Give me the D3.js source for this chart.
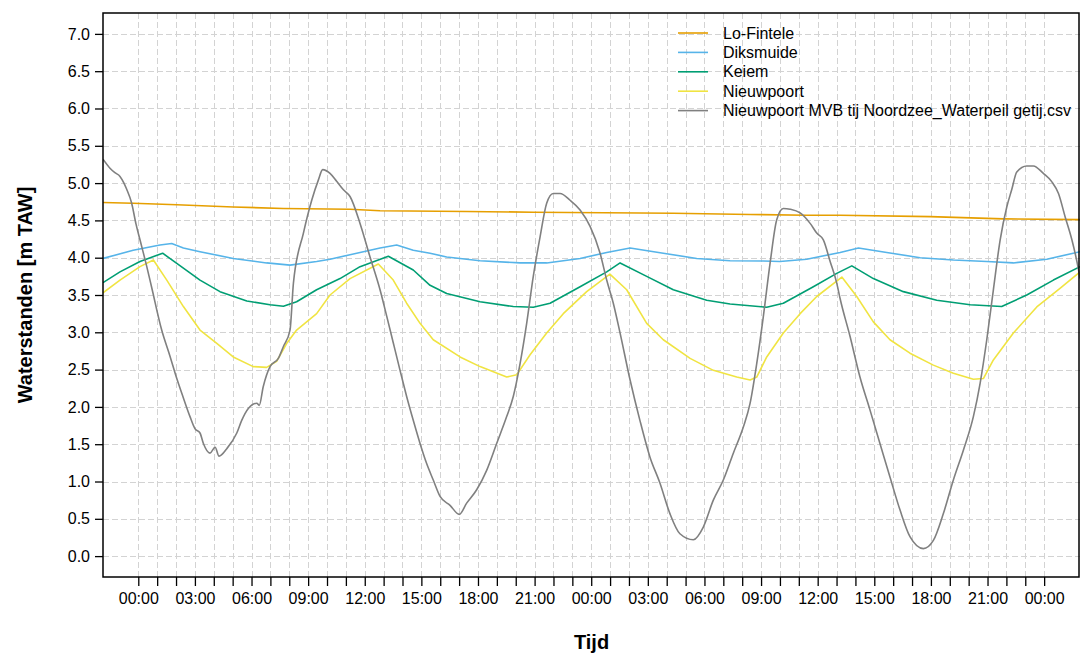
<!DOCTYPE html>
<html>
<head>
<meta charset="utf-8">
<script src="https://cdn.jsdelivr.net/npm/d3@7"></script>
<style>
	body { margin: 0; background: #fff; }
	text { font-family: "Liberation Sans", Arial, sans-serif; fill: #000; }
</style>
</head>
<body>
<div id="chart"></div>
<script>
// [uur t.o.v. eerste middernacht, waterstand m TAW]
const loFintele = [[-1.87,4.74],[-0.28,4.73],[2.04,4.71],[5.03,4.68],[7.68,4.66],[11.22,4.65],[12.81,4.63],[17.40,4.62],[20.93,4.61],[26.58,4.60],[28.35,4.595],[32.42,4.58],[35.42,4.57],[37.19,4.57],[41.96,4.55],[45.84,4.52],[49.9,4.51]];

const diksmuide = [[-1.87,3.99],[-0.27,4.10],[1.15,4.17],[1.77,4.19],[2.39,4.13],[3.27,4.08],[5.03,3.99],[6.80,3.93],[8.04,3.90],[9.45,3.95],[10.16,3.98],[11.22,4.04],[12.81,4.13],[13.69,4.17],[14.57,4.10],[15.46,4.06],[16.34,4.01],[18.11,3.96],[20.23,3.93],[21.64,3.93],[23.41,3.99],[24.82,4.07],[26.06,4.13],[27.82,4.06],[29.59,3.99],[31.36,3.96],[33.12,3.955],[34.0,3.95],[35.42,3.98],[37.19,4.07],[38.16,4.13],[39.66,4.07],[41.43,4.00],[43.19,3.97],[44.96,3.95],[46.37,3.93],[48.14,3.98],[49.9,4.08]];

const keiem = [[-1.87,3.665],[-0.97,3.81],[0.09,3.95],[1.29,4.06],[2.04,3.925],[3.27,3.70],[4.33,3.545],[5.75,3.42],[6.98,3.37],[7.69,3.35],[8.39,3.41],[9.45,3.57],[10.69,3.72],[11.75,3.88],[13.25,4.02],[14.57,3.835],[15.46,3.63],[16.34,3.52],[18.11,3.41],[19.87,3.345],[20.93,3.335],[21.82,3.39],[23.41,3.61],[24.82,3.81],[25.53,3.93],[26.94,3.75],[28.35,3.57],[30.12,3.43],[31.36,3.38],[33.30,3.335],[34.18,3.39],[35.77,3.61],[37.01,3.79],[37.81,3.89],[38.95,3.72],[40.54,3.545],[42.31,3.43],[44.08,3.37],[45.75,3.345],[47.08,3.50],[48.49,3.70],[49.9,3.88]];

const nieuwpoort = [[-1.87,3.53],[-0.97,3.70],[0.09,3.88],[0.80,3.97],[1.51,3.70],[2.39,3.345],[3.27,3.03],[4.16,2.85],[5.03,2.67],[6.09,2.54],[6.80,2.53],[7.33,2.61],[7.86,2.85],[8.39,3.03],[9.45,3.25],[10.16,3.50],[11.22,3.72],[12.72,3.915],[13.51,3.70],[14.22,3.39],[14.93,3.12],[15.63,2.90],[17.05,2.67],[18.11,2.54],[19.52,2.40],[20.05,2.43],[20.76,2.70],[21.64,2.99],[22.52,3.25],[23.76,3.545],[24.99,3.78],[25.88,3.57],[26.94,3.12],[27.82,2.90],[29.24,2.65],[30.47,2.49],[31.71,2.40],[32.42,2.36],[32.77,2.40],[33.30,2.67],[34.18,2.99],[35.07,3.25],[35.95,3.48],[37.28,3.74],[38.07,3.48],[38.95,3.14],[39.83,2.90],[40.89,2.72],[42.13,2.56],[43.19,2.45],[44.25,2.37],[44.78,2.38],[45.31,2.63],[46.37,2.99],[47.61,3.34],[48.84,3.59],[49.9,3.81]];

const getij = [[-1.87,5.32],[-1.50,5.20],[-1.24,5.14],[-0.97,5.09],[-0.76,5.00],[-0.62,4.92],[-0.35,4.73],[-0.12,4.45],[0.09,4.24],[0.45,3.88],[0.71,3.60],[1.24,3.03],[1.68,2.68],[2.04,2.38],[2.39,2.12],[2.74,1.87],[3.00,1.71],[3.27,1.65],[3.45,1.51],[3.80,1.38],[4.07,1.46],[4.28,1.34],[4.69,1.44],[5.22,1.65],[5.48,1.82],[5.83,1.98],[6.28,2.05],[6.41,2.02],[6.62,2.27],[6.98,2.54],[7.42,2.65],[7.69,2.81],[8.04,3.03],[8.22,3.66],[8.75,4.33],[9.19,4.77],[9.54,5.04],[9.77,5.18],[10.16,5.13],[10.52,5.02],[10.87,4.91],[11.22,4.82],[11.75,4.46],[12.28,4.01],[12.81,3.57],[13.16,3.22],[13.51,2.86],[13.87,2.49],[14.22,2.14],[14.57,1.82],[14.93,1.51],[15.28,1.24],[15.63,1.02],[15.99,0.80],[16.52,0.68],[17.01,0.56],[17.40,0.71],[17.93,0.89],[18.46,1.15],[18.99,1.51],[19.52,1.87],[19.87,2.14],[20.23,2.58],[20.58,3.12],[20.93,3.75],[21.29,4.28],[21.64,4.73],[21.99,4.86],[22.35,4.86],[22.88,4.77],[23.41,4.64],[23.94,4.42],[24.47,4.06],[24.82,3.70],[25.17,3.39],[25.53,2.99],[26.06,2.36],[26.58,1.82],[27.11,1.33],[27.64,0.98],[28.17,0.57],[28.70,0.30],[29.41,0.22],[29.94,0.39],[30.47,0.75],[31.00,1.02],[31.53,1.38],[32.06,1.73],[32.42,2.05],[32.77,2.58],[33.12,3.21],[33.48,3.93],[33.83,4.51],[34.18,4.66],[34.54,4.65],[35.07,4.60],[35.60,4.46],[35.95,4.33],[36.30,4.24],[36.66,3.95],[37.01,3.66],[37.19,3.45],[37.72,2.94],[38.24,2.40],[38.77,1.96],[39.30,1.51],[39.83,1.06],[40.36,0.62],[40.89,0.26],[41.60,0.10],[42.13,0.21],[42.66,0.57],[43.19,1.02],[43.72,1.42],[44.25,1.87],[44.61,2.32],[44.96,2.90],[45.31,3.57],[45.67,4.24],[46.02,4.68],[46.28,4.91],[46.55,5.15],[47.08,5.23],[47.43,5.23],[47.96,5.13],[48.40,5.02],[48.76,4.86],[49.11,4.55],[49.47,4.24],[49.82,3.84],[49.9,3.72]];

const names = ['Lo-Fintele','Diksmuide','Keiem','Nieuwpoort','Nieuwpoort MVB tij Noordzee_Waterpeil getij.csv'];
const colors = ['#E69F00','#56B4E9','#009E73','#F0E442','#808080'];
const yTicks = [0,0.5,1,1.5,2,2.5,3,3.5,4,4.5,5,5.5,6,6.5,7];

const drawChart = () => {
	const width = 1081, height = 657;
	const margin = {top: 13, right: 1, bottom: 80, left: 103};
	const day0 = new Date(2024, 0, 15);
	const toDate = h => new Date(day0.getTime() + h * 36e5);
	const series = [loFintele, diksmuide, keiem, nieuwpoort, getij];

	const svg = d3.select('#chart').append('svg')
		.attr('width', width)
		.attr('height', height);

	const x = d3.scaleTime()
		.domain(d3.extent(getij, d => toDate(d[0])))
		.range([margin.left, width - margin.right]);
	// R style: 4% extra round 0..7
	const y = d3.scaleLinear()
		.domain([-0.28, 7.28])
		.range([height - margin.bottom, margin.top]);

	const hourTicks = d3.timeHour.range(day0, toDate(48.01));

	// grid
	const grid = svg.append('g')
		.attr('stroke', '#d3d3d3')
		.attr('stroke-dasharray', '6,3')
		.attr('stroke-width', 1);
	grid.selectAll('.hg').data(yTicks).join('line')
		.attr('x1', margin.left).attr('x2', width - margin.right)
		.attr('y1', d => Math.round(y(d)) + 0.5).attr('y2', d => Math.round(y(d)) + 0.5);
	grid.selectAll('.vg').data(hourTicks).join('line')
		.attr('x1', d => Math.round(x(d)) + 0.5).attr('x2', d => Math.round(x(d)) + 0.5)
		.attr('y1', margin.top).attr('y2', height - margin.bottom);

	svg.append('clipPath').attr('id', 'clip')
		.append('rect')
		.attr('x', margin.left).attr('y', margin.top)
		.attr('width', width - margin.left - margin.right)
		.attr('height', height - margin.top - margin.bottom);

	const line = d3.line()
		.x(d => x(toDate(d[0])))
		.y(d => y(d[1]));
	// tij is een dichte meetreeks, iets gladder tekenen
	const smooth = d3.line()
		.x(d => x(toDate(d[0])))
		.y(d => y(d[1]))
		.curve(d3.curveMonotoneX);

	svg.append('g').attr('clip-path', 'url(#clip)')
		.selectAll('path').data(series).join('path')
		.attr('d', (d, i) => i === 4 ? smooth(d) : line(d))
		.attr('fill', 'none')
		.attr('stroke', (d, i) => colors[i])
		.attr('stroke-width', 1.6)
		.attr('stroke-linejoin', 'round');

	// axes
	const fmt = d3.timeFormat('%H:%M');
	const xAxis = svg.append('g')
		.attr('transform', `translate(0,${height - margin.bottom})`)
		.call(d3.axisBottom(x)
			.tickValues(hourTicks)
			.tickSize(9)
			.tickPadding(7)
			.tickFormat(d => d.getHours() % 3 === 0 ? fmt(d) : ''));
	xAxis.select('.domain').remove();

	const yAxis = svg.append('g')
		.attr('transform', `translate(${margin.left},0)`)
		.call(d3.axisLeft(y)
			.tickValues(yTicks)
			.tickSize(8)
			.tickPadding(5)
			.tickFormat(d3.format('.1f')));
	yAxis.select('.domain').remove();

	svg.selectAll('.tick text')
		.attr('font-size', 16)
		.attr('font-family', '"Liberation Sans", Arial, sans-serif')
		.attr('fill', '#000');
	svg.selectAll('.tick line').attr('stroke', '#000').attr('stroke-width', 1.3);

	// box
	svg.append('rect')
		.attr('x', margin.left).attr('y', margin.top)
		.attr('width', width - margin.left - margin.right - 1)
		.attr('height', height - margin.top - margin.bottom)
		.attr('fill', 'none')
		.attr('stroke', '#000')
		.attr('stroke-width', 1.5);

	// titels
	svg.append('text')
		.attr('transform', `translate(32,${(margin.top + height - margin.bottom) / 2}) rotate(-90)`)
		.attr('text-anchor', 'middle')
		.attr('font-size', 20)
		.attr('font-weight', 'bold')
		.text('Waterstanden [m TAW]');
	svg.append('text')
		.attr('x', (margin.left + width - margin.right) / 2)
		.attr('y', 649)
		.attr('text-anchor', 'middle')
		.attr('font-size', 20)
		.attr('font-weight', 'bold')
		.text('Tijd');

	// legende
	const legend = svg.append('g').attr('transform', 'translate(678,33)');
	const row = legend.selectAll('g').data(names).join('g')
		.attr('transform', (d, i) => `translate(0,${i * 19.4})`);
	row.append('line')
		.attr('x1', 0).attr('x2', 30)
		.attr('stroke', (d, i) => colors[i])
		.attr('stroke-width', 1.6);
	row.append('text')
		.attr('x', 45)
		.attr('dy', '0.35em')
		.attr('font-size', 16)
		.text(d => d);
};

drawChart();
</script>
</body>
</html>
